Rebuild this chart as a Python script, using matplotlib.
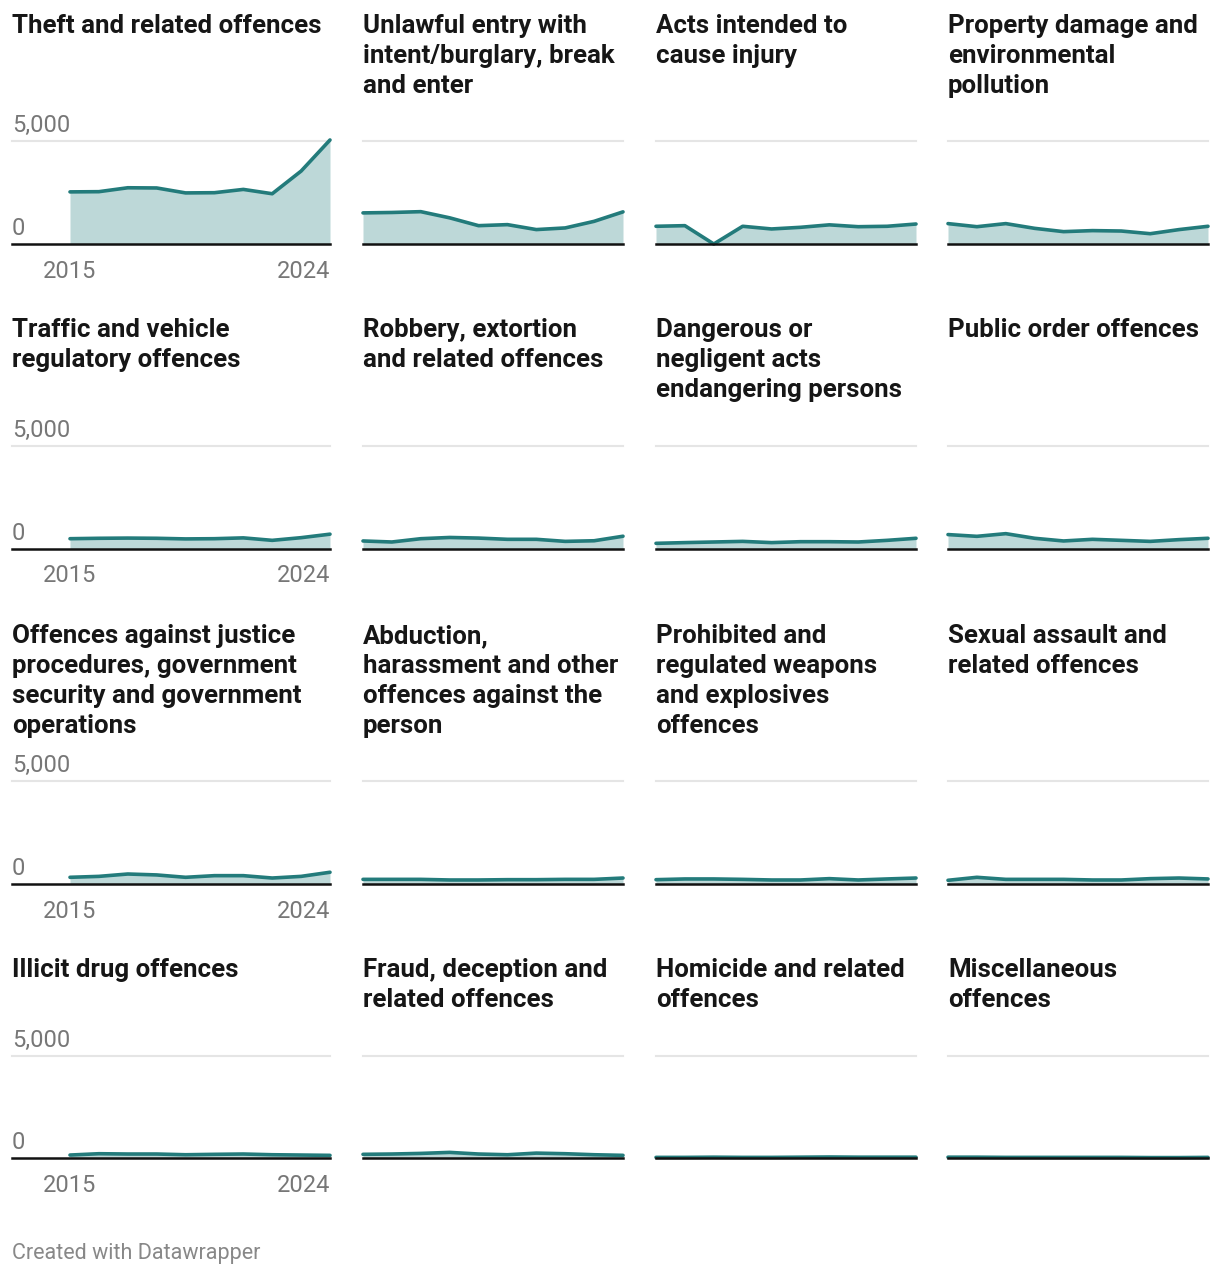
import matplotlib.pyplot as plt

plt.rcParams['font.family'] = ['Roboto', 'DejaVu Sans']

# Years on the x axis
years = [2015, 2016, 2017, 2018, 2019, 2020, 2021, 2022, 2023, 2024]

# Values, one list per offence
theft = [2530, 2540, 2730, 2720, 2480, 2490, 2650, 2440, 3540, 5050]
unlawful_entry = [1510, 1530, 1570, 1270, 890, 940, 700, 780, 1100, 1560]
injury = [860, 890, 0, 860, 730, 810, 930, 840, 860, 970]
property_damage = [990, 840, 990, 760, 600, 650, 630, 500, 700, 860]
traffic = [500, 520, 530, 520, 490, 500, 540, 420, 550, 720]
robbery = [390, 340, 500, 560, 530, 470, 470, 370, 400, 620]
dangerous = [275, 310, 340, 370, 310, 355, 355, 340, 420, 520]
public_order = [700, 615, 745, 520, 390, 470, 420, 370, 455, 520]
justice = [325, 370, 485, 440, 325, 405, 405, 290, 370, 570]
abduction = [225, 225, 225, 195, 195, 210, 210, 225, 225, 290]
weapons = [210, 245, 245, 225, 195, 195, 260, 195, 245, 290]
sexual_assault = [180, 325, 225, 225, 225, 195, 195, 260, 290, 245]
drugs = [145, 210, 195, 195, 160, 180, 195, 160, 145, 130]
fraud = [180, 195, 225, 275, 195, 160, 240, 210, 160, 130]
homicide = [30, 30, 40, 30, 30, 40, 50, 40, 40, 40]
misc = [40, 40, 30, 30, 30, 30, 30, 20, 20, 30]

titles = [
    "Theft and related offences",
    "Unlawful entry with\nintent/burglary, break\nand enter",
    "Acts intended to\ncause injury",
    "Property damage and\nenvironmental\npollution",
    "Traffic and vehicle\nregulatory offences",
    "Robbery, extortion\nand related offences",
    "Dangerous or\nnegligent acts\nendangering persons",
    "Public order offences",
    "Offences against justice\nprocedures, government\nsecurity and government\noperations",
    "Abduction,\nharassment and other\noffences against the\nperson",
    "Prohibited and\nregulated weapons\nand explosives\noffences",
    "Sexual assault and\nrelated offences",
    "Illicit drug offences",
    "Fraud, deception and\nrelated offences",
    "Homicide and related\noffences",
    "Miscellaneous\noffences",
]
series = [theft, unlawful_entry, injury, property_damage,
          traffic, robbery, dangerous, public_order,
          justice, abduction, weapons, sexual_assault,
          drugs, fraud, homicide, misc]

y_ticks = [0, 5000]
y_tick_labels = ["0", "5,000"]

W, H = 1220, 1276
LINE = "#237b7b"
FILL = "#bdd8d8"
GREY = "#777777"

fig = plt.figure(figsize=(W / 100, H / 100), dpi=100)

# layout in pixels (from top-left)
col_left = [70, 363, 656, 948]
col_width = 260
row_base = [244, 549, 884, 1158]
row_grid = [141, 446, 781, 1056]
row_title = [14, 318, 624, 958]
title_x = [12, 363, 656, 948]

for i, (title, vals) in enumerate(zip(titles, series)):
    r, c = divmod(i, 4)
    left = col_left[c] / W
    bottom = 1 - row_base[r] / H
    height = (row_base[r] - row_grid[r]) / H
    ax = fig.add_axes([left, bottom, col_width / W, height])
    ax.set_xlim(years[0], years[-1])
    ax.set_ylim(0, 5000)
    ax.axis("off")

    # extend lines left into the label area on the first column
    ext = -(col_left[0] - title_x[0]) / col_width if c == 0 else 0
    ax.axhline(5000, xmin=ext, xmax=1, color="#e5e5e5", lw=1.5, clip_on=False, zorder=1)
    ax.fill_between(years, vals, 0, color=FILL, lw=0, zorder=2)
    ax.plot(years, vals, color=LINE, lw=2.6, solid_joinstyle="round",
            solid_capstyle="round", clip_on=False, zorder=3)
    ax.axhline(0, xmin=ext, xmax=1, color="#111111", lw=1.8, clip_on=False, zorder=4)

    fig.text(title_x[c] / W, 1 - row_title[r] / H, title, ha="left", va="top",
             fontsize=18.6, fontweight="bold", color="#161616", linespacing=1.31)

    if c == 0:
        for t, lab in zip(y_ticks, y_tick_labels):
            y_px = row_base[r] - (row_base[r] - row_grid[r]) * t / 5000
            fig.text(title_x[0] / W, 1 - (y_px - 4) / H, lab, ha="left", va="bottom",
                     fontsize=17, color=GREY)
        ty = 1 - (row_base[r] + 27) / H
        fig.text(col_left[0] / W, ty, str(years[0]), ha="center", va="center",
                 fontsize=17, color=GREY)
        fig.text((col_left[0] + col_width) / W, ty, str(years[-1]), ha="right", va="center",
                 fontsize=17, color=GREY)

fig.text(12 / W, 1 - 1254 / H, "Created with Datawrapper", ha="left", va="center",
         fontsize=15.5, color="#888888")

fig.savefig("out.png", dpi=100)
